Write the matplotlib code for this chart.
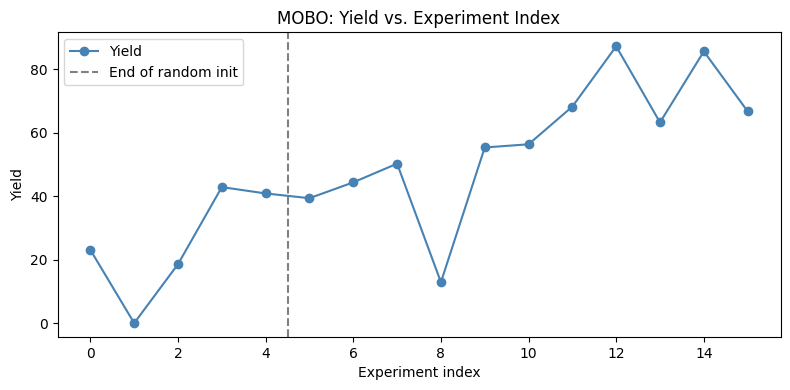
import matplotlib
matplotlib.use("Agg")
import matplotlib.pyplot as plt

experiment_index = list(range(16))
yield_values = [23.1, 0.0, 18.6, 42.9, 40.9, 39.4, 44.4, 50.3, 12.9, 55.4, 56.4, 68.3, 87.3, 63.3, 85.7, 66.8]
random_init_end = 4.5

fig, ax = plt.subplots(figsize=(7.9, 3.9), dpi=100)
ax.plot(experiment_index, yield_values, marker="o", color="steelblue", label="Yield")
ax.axvline(random_init_end, color="gray", linestyle="--", label="End of random init")
ax.set_xlabel("Experiment index")
ax.set_ylabel("Yield")
ax.set_title("MOBO: Yield vs. Experiment Index")
ax.legend(loc="upper left")
fig.subplots_adjust(left=0.0728, right=0.988, top=0.9167, bottom=0.136)
fig.savefig("out.png", dpi=100)
